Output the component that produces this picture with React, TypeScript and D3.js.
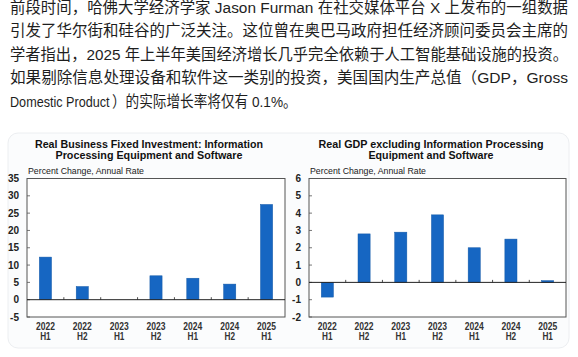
import React from "react";
import * as d3 from "d3";

const paragraphLines = [
  "前段时间，哈佛大学经济学家 Jason Furman 在社交媒体平台 X 上发布的一组数据",
  "引发了华尔街和硅谷的广泛关注。这位曾在奥巴马政府担任经济顾问委员会主席的",
  "学者指出，2025 年上半年美国经济增长几乎完全依赖于人工智能基础设施的投资。",
  "如果剔除信息处理设备和软件这一类别的投资，美国国内生产总值（GDP，Gross",
];
const lastLineParts = ["Domestic Product", "）的实际增长率将仅有 0.1%。"];

const categories = ["2022 H1", "2022 H2", "2023 H1", "2023 H2", "2024 H1", "2024 H2", "2025 H1"];

const investmentValues = [12.3, 3.8, 0.0, 6.9, 6.2, 4.5, 27.5];
const gdpExValues = [-0.85, 2.8, 2.9, 3.9, 2.0, 2.5, 0.1];

const leftTitle = ["Real Business Fixed Investment: Information", "Processing Equipment and Software"];
const rightTitle = ["Real GDP excluding Information Processing", "Equipment and Software"];
const subtitle = "Percent Change, Annual Rate";

const leftTicks = [35, 30, 25, 20, 15, 10, 5, 0, -5];
const rightTicks = [6, 5, 4, 3, 2, 1, 0, -1, -2];

const FONT = "'Liberation Sans', Arial, 'Noto Sans CJK SC', sans-serif";
const BAR = "#1666c2";

type ChartProps = {
  x0: number;
  x1: number;
  y0: number;
  y1: number;
  domain: [number, number];
  ticks: number[];
  values: number[];
  title: string[];
  titleWidths: number[];
  cx: number;
};

function BarChart({ x0, x1, y0, y1, domain, ticks, values, title, titleWidths, cx }: ChartProps) {
  const x = d3.scaleBand<string>().domain(categories).range([x0, x1]).padding(0);
  const y = d3.scaleLinear().domain(domain).range([y1, y0]);
  const bw = x.bandwidth() * 0.33;
  const zero = y(0);
  return (
    <g fontFamily={FONT}>
      <text x={cx} y={148} textAnchor="middle" fontSize={11.2} fontWeight="bold" fill="#111"
        textLength={titleWidths[0]} lengthAdjust="spacingAndGlyphs">{title[0]}</text>
      <text x={cx} y={159} textAnchor="middle" fontSize={11.2} fontWeight="bold" fill="#111"
        textLength={titleWidths[1]} lengthAdjust="spacingAndGlyphs">{title[1]}</text>
      <text x={x0 + 1} y={174} fontSize={9} fill="#222" textLength={116} lengthAdjust="spacingAndGlyphs">{subtitle}</text>
      <rect x={x0} y={y0} width={x1 - x0} height={y1 - y0} fill="#fff" stroke="#555" strokeWidth={1} />
      {ticks.map((t) => (
        <g key={t}>
          <line x1={x0} x2={x0 + 3} y1={y(t)} y2={y(t)} stroke="#555" strokeWidth={0.8} />
          <text x={x0 - 8} y={y(t) + 3.6} textAnchor="end" fontSize={10} fontWeight="bold" fill="#222">{t}</text>
        </g>
      ))}
      {categories.map((c, i) => {
        const v = values[i];
        const bx = (x(c) as number) + (x.bandwidth() - bw) / 2;
        const top = Math.min(y(v), zero);
        const h = Math.abs(y(v) - zero);
        const [yr, half] = c.split(" ");
        const mid = (x(c) as number) + x.bandwidth() / 2;
        return (
          <g key={c}>
            <rect x={bx} y={top} width={bw} height={h} fill={BAR} stroke="#1259a8" strokeWidth={0.5} />
            <text x={mid} y={330} textAnchor="middle" fontSize={10} fontWeight="bold" fill="#333"
              textLength={19} lengthAdjust="spacingAndGlyphs">{yr}</text>
            <text x={mid} y={339.5} textAnchor="middle" fontSize={10} fontWeight="bold" fill="#333"
              textLength={10.5} lengthAdjust="spacingAndGlyphs">{half}</text>
          </g>
        );
      })}
      <line x1={x0} x2={x1} y1={zero} y2={zero} stroke="#222" strokeWidth={1} />
      {categories.slice(1).map((c) => (
        <line key={c} x1={x(c) as number} x2={x(c) as number} y1={zero} y2={zero - 2.5} stroke="#222" strokeWidth={0.8} />
      ))}
    </g>
  );
}

export default function App() {
  const baselines = [13, 36.4, 59.9, 83.4, 107.3];
  return (
    <svg width={578} height={357} style={{ position: "absolute", left: 0, top: 0, background: "#fff" }}>
      <rect x={0} y={0} width={578} height={357} fill="#fff" />
      {paragraphLines.map((l, i) => (
        <text key={i} x={10} y={baselines[i]} fontFamily={FONT} fontSize={15.5} fill="#1e1e1e"
          textLength={558} lengthAdjust="spacingAndGlyphs">{l}</text>
      ))}
      <text transform={`translate(10,${baselines[4]}) scale(0.815,1)`} fontFamily={FONT} fontSize={15.5} fill="#1e1e1e">
        {lastLineParts[0]}
      </text>
      <text transform={`translate(112,${baselines[4]}) scale(0.88,1)`} fontFamily={FONT} fontSize={15.5} fill="#1e1e1e">
        {lastLineParts[1]}
      </text>
      <rect x={8} y={133} width={561} height={215} rx={10} fill="#fbfcfd" stroke="#eceef1" strokeWidth={1} />
      <BarChart x0={27} x1={285} y0={178.5} y1={317} domain={[-5, 35]} ticks={leftTicks}
        values={investmentValues} title={leftTitle} titleWidths={[228, 187]} cx={149} />
      <BarChart x0={309} x1={566} y0={178.5} y1={317} domain={[-2, 6]} ticks={rightTicks}
        values={gdpExValues} title={rightTitle} titleWidths={[225, 125]} cx={431} />
    </svg>
  );
}
